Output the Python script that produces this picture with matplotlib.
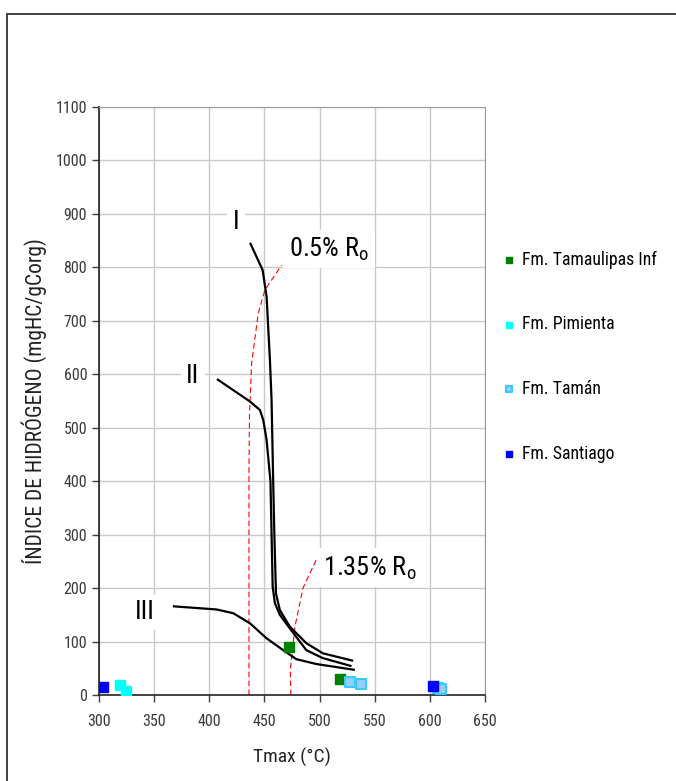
import matplotlib.pyplot as plt
from matplotlib.patches import Rectangle

plt.rcParams['font.family'] = ['Roboto Condensed', 'DejaVu Sans']

# sample points (Tmax, HI)
tam_inf_t = [472, 519]
tam_inf_hi = [89, 30]
pimienta_t = [319.5, 324.5]
pimienta_hi = [19, 8]
taman_t = [527.5, 538, 607.5, 610]
taman_hi = [25, 20, 14, 11]
santiago_t = [304, 602.5]
santiago_hi = [15.5, 17]

# kerogen type curves
curve_i_t = [437, 448.4, 452, 455, 456.5, 458, 459, 460.5, 464, 473, 488, 503, 530.5]
curve_i_hi = [846, 795, 745, 627, 552, 397, 303, 190, 159, 128, 97, 78, 64]
curve_ii_t = [407, 437, 446, 449, 452, 455.5, 457.5, 459.5, 464, 474, 488, 503, 529]
curve_ii_hi = [591, 549, 533, 514, 477, 400, 203, 172, 150, 122, 84, 69, 54]
curve_iii_t = [367, 406.7, 421.8, 437, 452, 467, 479, 497, 532]
curve_iii_hi = [166, 160, 153, 134, 106, 84, 67, 58, 47]

# vitrinite reflectance boundaries
ro05_t = [436, 436, 436.5, 438.4, 444.4, 450.5, 465.6]
ro05_hi = [0, 420, 525, 620, 714, 758, 804]
ro135_t = [474, 473.5, 477.7, 485, 497, 500.4]
ro135_hi = [0, 47, 128, 200, 253, 265]

fig = plt.figure(figsize=(6.76, 7.81), dpi=100)
ax = fig.add_axes([0.1464, 0.1101, 0.5710, 0.7529])

# outer chart frame, running off the right and bottom edges
fig.patches.append(Rectangle((7 / 676, -0.5), 2, 1.5 - 14 / 781, transform=fig.transFigure,
                             fill=False, edgecolor='#333333', linewidth=1.3))

ax.plot(ro05_t, ro05_hi, color='red', linewidth=0.8, dashes=(5, 3))
ax.plot(ro135_t, ro135_hi, color='red', linewidth=0.8, dashes=(5, 3))

for t, hi in [(curve_i_t, curve_i_hi), (curve_ii_t, curve_ii_hi), (curve_iii_t, curve_iii_hi)]:
    ax.plot(t, hi, color='black', linewidth=1.6, solid_capstyle='butt')

ax.scatter(tam_inf_t, tam_inf_hi, marker='s', s=55, color='#008000', zorder=3,
           label='Fm. Tamaulipas Inf')
ax.scatter(pimienta_t, pimienta_hi, marker='s', s=55, color='#00FFFF', zorder=3,
           label='Fm. Pimienta')
ax.scatter(taman_t, taman_hi, marker='s', s=45, facecolor='#99CCFF', edgecolor='#33CCFF',
           linewidths=1.5, zorder=3, label='Fm. Tamán')
ax.scatter(santiago_t, santiago_hi, marker='s', s=55, color='#0000FF', zorder=3,
           label='Fm. Santiago')

box = dict(facecolor='white', edgecolor='none', pad=4)
ax.text(424, 885, 'I', fontsize=19, ha='center', va='center', bbox=box)
ax.text(385, 597, 'II', fontsize=19, ha='center', va='center', bbox=box)
ax.text(342, 155, 'III', fontsize=19, ha='center', va='center', bbox=box)
ax.text(472, 834, '0.5% R$_\\mathregular{o}$', fontsize=19, ha='left', va='center', bbox=box)
ax.text(503, 238, '1.35% R$_\\mathregular{o}$', fontsize=19, ha='left', va='center', bbox=box)

ax.set_xlim(300, 650)
ax.set_ylim(0, 1100)
ax.set_xticks(range(300, 651, 50))
ax.set_yticks(range(0, 1101, 100))
ax.grid(True, color='#C8C8C8', linewidth=1)
ax.set_axisbelow(True)
ax.tick_params(direction='out', length=5, width=1, labelsize=11.5, colors='#404040',
               labelcolor='#3a3a3a')
ax.tick_params(axis='x', pad=9)
for side in ['top', 'right']:
    ax.spines[side].set_color('#999999')
for side in ['left', 'bottom']:
    ax.spines[side].set_color('#222222')
    ax.spines[side].set_linewidth(1.2)

ax.set_xlabel('Tmax (°C)', fontsize=14, color='#222222', labelpad=13)
ax.set_ylabel('ÍNDICE DE HIDRÓGENO (mgHC/gCorg)', fontsize=15.5, color='#222222', labelpad=6)

fig.legend(loc='upper left', bbox_to_anchor=(0.735, 0.688), frameon=False, fontsize=12.8,
           labelspacing=2.62, handlelength=0.6, handletextpad=0.4, markerscale=0.6,
           borderaxespad=0)

fig.savefig('out.png', dpi=100)
